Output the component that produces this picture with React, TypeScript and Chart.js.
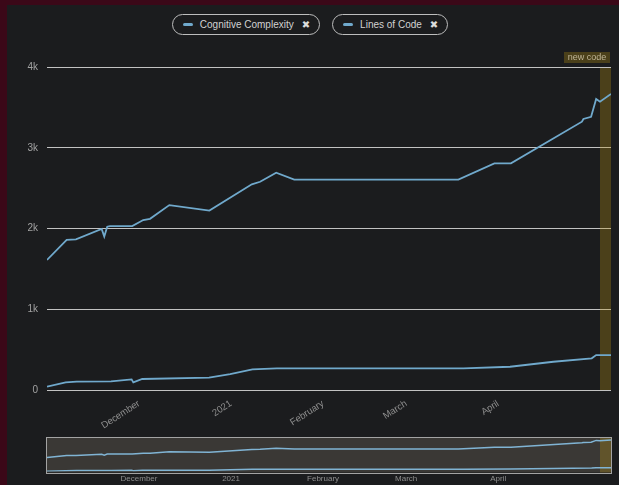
import React, { useEffect, useRef } from "react";
import { Chart, registerables } from "chart.js";

Chart.register(...registerables);

// ---------- data ----------
const seriesNames = ["Cognitive Complexity", "Lines of Code"];

const complexityDates = [
  "2020-10-31", "2020-11-06 07:00", "2020-11-10", "2020-11-21 14:00", "2020-11-28 12:00",
  "2020-11-29 02:00", "2020-12-02 02:00", "2020-12-24 14:00", "2020-12-31 17:00", "2021-01-08 05:00",
  "2021-01-16 10:00", "2021-03-20 07:00", "2021-04-05", "2021-04-19 14:00", "2021-05-02 12:00",
  "2021-05-04", "2021-05-09",
];
const complexityValues = [41, 95, 103, 107, 132, 95, 136, 152, 198, 256, 268, 268, 288, 350, 392, 433, 433];

const locDates = [
  "2020-10-31", "2020-11-06 15:00", "2020-11-09 18:00", "2020-11-18 10:00", "2020-11-19 07:00",
  "2020-11-20 07:00", "2020-11-21 05:00", "2020-11-28 17:00", "2020-12-02 10:00", "2020-12-04 17:00",
  "2020-12-11 05:00", "2020-12-24 17:00", "2021-01-08", "2021-01-10 19:00", "2021-01-16 05:00",
  "2021-01-22 07:00", "2021-03-18 14:00", "2021-03-30 17:00", "2021-04-05 07:00", "2021-04-29 05:00",
  "2021-04-29 17:00", "2021-05-02 07:00", "2021-05-04", "2021-05-05 07:00", "2021-05-09",
];
const locValues = [
  1610, 1858, 1865, 1994, 1900, 2022, 2030, 2030, 2105, 2120, 2290, 2222, 2547, 2579, 2691,
  2605, 2605, 2807, 2807, 3323, 3356, 3384, 3604, 3570, 3666,
];

const monthTickDates = ["2020-12-01", "2021-01-01", "2021-02-01", "2021-03-01", "2021-04-01"];
const monthTickLabels = ["December", "2021", "February", "March", "April"];
const yTickValues = [0, 1000, 2000, 3000, 4000];
const yTickLabels = ["0", "1k", "2k", "3k", "4k"];
const newCodeStart = "2021-05-05 07:00";
const newCodeLabel = "new code";

// ---------- helpers ----------
const ORIGIN = Date.UTC(2020, 9, 31);
function toDay(s: string): number {
  const [d, t] = s.split(" ");
  const [y, m, dd] = d.split("-").map(Number);
  let ms = Date.UTC(y, m - 1, dd);
  if (t) {
    const [h, mi] = t.split(":").map(Number);
    ms += (h * 60 + mi) * 60000;
  }
  return (ms - ORIGIN) / 86400000;
}

const LINE_COLOR = "#70a9cc";
const BAND_COLOR = "rgba(190,150,20,0.3)";
const FONT = "'Liberation Sans', Arial, sans-serif";

const tickDays = monthTickDates.map(toDay);
const allDays = [...complexityDates, ...locDates].map(toDay);
const xMin = Math.min(...allDays);
const xMax = Math.max(...allDays);
const newCodeDay = toDay(newCodeStart);

function makeDatasets(width: number, color: string) {
  return [
    {
      label: seriesNames[0],
      data: complexityDates.map((d, i) => ({ x: toDay(d), y: complexityValues[i] })),
      borderColor: color,
      borderWidth: width,
      pointRadius: 0,
      tension: 0,
      fill: false,
    },
    {
      label: seriesNames[1],
      data: locDates.map((d, i) => ({ x: toDay(d), y: locValues[i] })),
      borderColor: color,
      borderWidth: width,
      pointRadius: 0,
      tension: 0,
      fill: false,
    },
  ];
}

const xTickCallback = (v: any) => {
  const i = tickDays.indexOf(Number(v));
  return i >= 0 ? monthTickLabels[i] : "";
};

const mainPlugin = {
  id: "newCodeMain",
  beforeDatasetsDraw(chart: any) {
    const { ctx, chartArea, scales } = chart;
    const x0 = scales.x.getPixelForValue(newCodeDay);
    ctx.save();
    ctx.fillStyle = BAND_COLOR;
    ctx.fillRect(x0, chartArea.top + 1, chartArea.right - x0, chartArea.bottom - chartArea.top - 1);
    ctx.font = `9px ${FONT}`;
    const tw = ctx.measureText(newCodeLabel).width;
    const bw = Math.round(tw + 7);
    const bh = 11;
    const bx = Math.round(chartArea.right - 1 - bw);
    const by = Math.round(chartArea.top - 4 - bh);
    ctx.fillRect(bx, by, bw, bh);
    ctx.fillStyle = "#bfb596";
    ctx.textAlign = "center";
    ctx.textBaseline = "middle";
    ctx.fillText(newCodeLabel, bx + bw / 2, by + bh / 2 + 0.5);
    ctx.restore();
  },
};

const miniPlugin = {
  id: "newCodeMini",
  beforeDatasetsDraw(chart: any) {
    const { ctx, chartArea, scales } = chart;
    const x0 = scales.x.getPixelForValue(newCodeDay);
    ctx.save();
    ctx.fillStyle = "#3a3835";
    ctx.fillRect(chartArea.left, chartArea.top, chartArea.right - chartArea.left, chartArea.bottom - chartArea.top + 1);
    ctx.fillStyle = BAND_COLOR;
    ctx.fillRect(x0, chartArea.top, chartArea.right - x0, chartArea.bottom - chartArea.top + 1);
    ctx.restore();
  },
  afterDatasetsDraw(chart: any) {
    const { ctx, chartArea } = chart;
    ctx.save();
    ctx.strokeStyle = "#a3a3a3";
    ctx.lineWidth = 1;
    const l = Math.round(chartArea.left) - 0.5;
    const t = Math.round(chartArea.top) + 0.5;
    const r = Math.round(chartArea.right) + 0.5;
    const b = Math.round(chartArea.bottom) + 1.5;
    ctx.strokeRect(l, t, r - l, b - t);
    ctx.restore();
  },
};

function Pill({ label }: { label: string }) {
  return (
    <div
      style={{
        display: "inline-flex",
        alignItems: "center",
        boxSizing: "border-box",
        height: 21,
        border: "1px solid #bdbdbd",
        borderRadius: 11,
        padding: "0 9px 0 10px",
        fontFamily: FONT,
        fontSize: 10,
        color: "#d2d2d2",
        whiteSpace: "nowrap",
      }}
    >
      <span style={{ display: "inline-block", width: 10, height: 3, borderRadius: 1.5, background: LINE_COLOR, marginRight: 7 }} />
      <span>{label}</span>
      <span style={{ marginLeft: 8, fontSize: 10, fontWeight: "bold", color: "#dcdcdc", fontFamily: "'DejaVu Sans', sans-serif" }}>✖</span>
    </div>
  );
}

export default function App() {
  const mainRef = useRef<HTMLCanvasElement>(null);
  const miniRef = useRef<HTMLCanvasElement>(null);

  useEffect(() => {
    Chart.defaults.font.family = FONT;
    const main = new Chart(mainRef.current!, {
      type: "line",
      data: { datasets: makeDatasets(1.8, LINE_COLOR) as any },
      plugins: [mainPlugin],
      options: {
        animation: false,
        responsive: false,
        maintainAspectRatio: false,
        layout: { padding: { top: 27, right: 8, left: 0, bottom: 0 } },
        plugins: { legend: { display: false }, tooltip: { enabled: false } },
        scales: {
          x: {
            type: "linear",
            min: xMin,
            max: xMax,
            grid: { display: false, drawTicks: false },
            border: { display: false },
            afterBuildTicks: (s: any) => {
              s.ticks = tickDays.map((v) => ({ value: v }));
            },
            afterFit: (s: any) => {
              s.height = 45;
            },
            ticks: {
              autoSkip: false,
              maxRotation: 33,
              minRotation: 33,
              padding: 8,
              color: "#8e8e8e",
              font: { size: 9.5 },
              callback: xTickCallback,
            },
          },
          y: {
            min: 0,
            max: 4000,
            afterBuildTicks: (s: any) => {
              s.ticks = yTickValues.map((v) => ({ value: v }));
            },
            afterFit: (s: any) => {
              s.width = 40;
            },
            grid: { color: "#c2c2c2", drawTicks: false, lineWidth: 1 },
            border: { display: false },
            ticks: {
              padding: 9,
              color: "#a2a2a2",
              font: { size: 10 },
              callback: (v: any) => {
                const i = yTickValues.indexOf(Number(v));
                return i >= 0 ? yTickLabels[i] : "";
              },
            },
          },
        },
      } as any,
    });

    const mini = new Chart(miniRef.current!, {
      type: "line",
      data: { datasets: makeDatasets(1.5, "#80b4d4") as any },
      plugins: [miniPlugin],
      options: {
        animation: false,
        responsive: false,
        maintainAspectRatio: false,
        layout: { padding: { top: 2, right: 8, left: 40, bottom: 0 } },
        plugins: { legend: { display: false }, tooltip: { enabled: false } },
        scales: {
          x: {
            type: "linear",
            min: xMin,
            max: xMax,
            grid: { display: false, drawTicks: false },
            border: { display: false },
            afterBuildTicks: (s: any) => {
              s.ticks = tickDays.map((v) => ({ value: v }));
            },
            afterFit: (s: any) => {
              s.height = 13.5;
            },
            ticks: {
              autoSkip: false,
              maxRotation: 0,
              minRotation: 0,
              padding: 2,
              color: "#8e8e8e",
              font: { size: 8 },
              callback: xTickCallback,
            },
          },
          y: { display: false, min: 0, max: 4000 },
        },
      } as any,
    });

    return () => {
      main.destroy();
      mini.destroy();
    };
  }, []);

  return (
    <div style={{ position: "fixed", left: 0, top: 0, width: 619, height: 485, background: "#3b0818", overflow: "hidden" }}>
      <div style={{ position: "absolute", left: 7, top: 5, width: 612, height: 480, background: "#1b1c1e" }}>
        <div
          style={{
            position: "absolute",
            top: 9,
            left: 0,
            width: 606,
            display: "flex",
            justifyContent: "center",
            gap: 12,
          }}
        >
          {seriesNames.map((n) => (
            <Pill key={n} label={n} />
          ))}
        </div>
        <canvas ref={mainRef} width={612} height={395} style={{ position: "absolute", left: 0, top: 35, display: "block" }} />
        <canvas ref={miniRef} width={612} height={50} style={{ position: "absolute", left: 0, top: 430, display: "block" }} />
      </div>
    </div>
  );
}
